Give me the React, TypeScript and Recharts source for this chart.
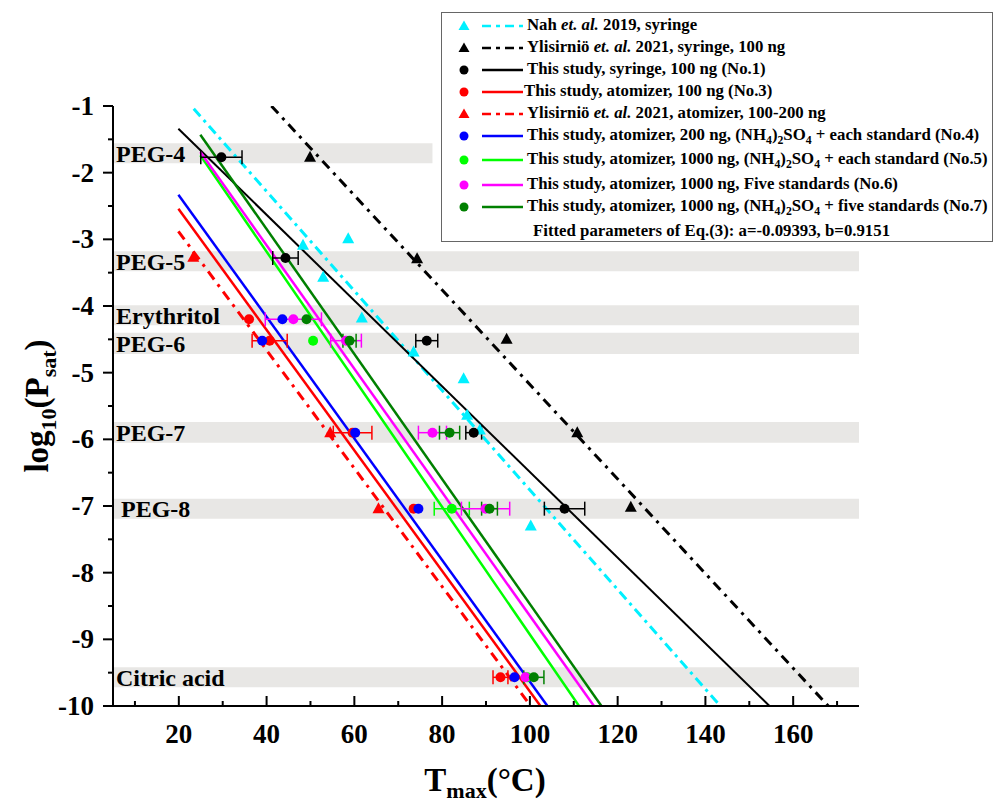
import React from 'react';
import { ComposedChart, Line, Scatter, XAxis, YAxis, ErrorBar, ReferenceArea } from 'recharts';

const FONT = '"Liberation Serif", "Times New Roman", serif';

// fitted lines, end points (T in °C, log10 Psat)
const nahFit = [{ x: 23.4, y: -1.04 }, { x: 143.4, y: -10 }];
const ylisSyringeFit = [{ x: 41.1, y: -1 }, { x: 168, y: -10 }];
const no1Fit = [{ x: 19.9, y: -1.34 }, { x: 154.6, y: -10 }];
const no3Fit = [{ x: 19.9, y: -2.54 }, { x: 102.4, y: -10 }];
const ylisAtomFit = [{ x: 19.9, y: -2.88 }, { x: 100.2, y: -10 }];
const no4Fit = [{ x: 19.9, y: -2.33 }, { x: 104, y: -10 }];
const no5Fit = [{ x: 24.9, y: -1.74 }, { x: 111.2, y: -10 }];
const no6Fit = [{ x: 24.9, y: -1.69 }, { x: 114.6, y: -10 }];
const no7Fit = [{ x: 24.9, y: -1.43 }, { x: 116.3, y: -10 }];

// measured points, e = half width of the T error bar
const nahPts = [
  { x: 48.3, y: -3.09 }, { x: 58.6, y: -2.99 }, { x: 52.9, y: -3.57 }, { x: 61.7, y: -4.18 },
  { x: 73.5, y: -4.69 }, { x: 84.9, y: -5.09 }, { x: 85.7, y: -5.64 }, { x: 88.6, y: -5.86 },
  { x: 100.2, y: -7.3 },
];
const ylisSyringePts = [
  { x: 49.9, y: -1.77 }, { x: 74.3, y: -3.29 }, { x: 94.7, y: -4.5 }, { x: 110.8, y: -5.9 }, { x: 123, y: -7.02 },
];
const no1Pts = [
  { x: 29.7, y: -1.77, e: 4.7 }, { x: 44.3, y: -3.28, e: 2.9 }, { x: 76.5, y: -4.52, e: 2.5 },
  { x: 87.2, y: -5.9, e: 1.8 }, { x: 107.9, y: -7.04, e: 4.6 },
];
const ylisAtomPts = [{ x: 23.3, y: -3.27 }, { x: 54.5, y: -5.9 }, { x: 65.5, y: -7.04 }];
const no3Pts = [
  { x: 36, y: -4.2, e: 0 }, { x: 40.7, y: -4.52, e: 4 }, { x: 59.6, y: -5.9, e: 4.4 },
  { x: 73.5, y: -7.04, e: 0 }, { x: 93.3, y: -9.57, e: 1.7 },
];
const no4Pts = [
  { x: 43.6, y: -4.2, e: 0 }, { x: 39, y: -4.52, e: 0 }, { x: 60.2, y: -5.9, e: 0 },
  { x: 74.6, y: -7.04, e: 0 }, { x: 96.5, y: -9.57, e: 0 },
];
const no5Pts = [{ x: 50.6, y: -4.52, e: 0 }, { x: 82.2, y: -7.04, e: 4 }, { x: 99.4, y: -9.57, e: 0 }];
const no6Pts = [
  { x: 46.1, y: -4.2, e: 6.4 }, { x: 58.1, y: -4.52, e: 3.5 }, { x: 77.8, y: -5.9, e: 3.2 },
  { x: 89.9, y: -7.04, e: 5.5 }, { x: 99, y: -9.57, e: 0 },
];
const no7Pts = [
  { x: 49.1, y: -4.2, e: 0 }, { x: 58.9, y: -4.52, e: 1.5 }, { x: 81.7, y: -5.9, e: 2.3 },
  { x: 90.8, y: -7.04, e: 1.8 }, { x: 100.9, y: -9.57, e: 2.3 },
];

// standards shown as grey bands
const standards = ['PEG-4', 'PEG-5', 'Erythritol', 'PEG-6', 'PEG-7', 'PEG-8', 'Citric acid'];
const bandLow = [-1.86, -3.48, -4.29, -4.72, -6.05, -7.19, -9.72];
const bandHigh = [-1.56, -3.18, -3.99, -4.4, -5.74, -6.89, -9.42];
const bandEnd = [77.8, 175, 175, 175, 175, 175, 175];

const xTicks = [10, 20, 30, 40, 50, 60, 70, 80, 90, 100, 110, 120, 130, 140, 150, 160, 170];
const yTicks = [-10, -9.5, -9, -8.5, -8, -7.5, -7, -6.5, -6, -5.5, -5, -4.5, -4, -3.5, -3, -2.5, -2, -1.5, -1];

const CYAN = '#00F0FF';
const RED = '#FF0000';
const BLUE = '#0000FF';
const LIME = '#00FF00';
const MAGENTA = '#FF00FF';
const DKGREEN = '#008000';

const XTick = (props: any) => {
  const { x, y, payload } = props;
  const major = payload.value % 20 === 0;
  return (
    <g>
      <line x1={x} x2={x} y1={y} y2={y - (major ? 10 : 5)} stroke="#000" strokeWidth={2} />
      {major && (
        <text x={x} y={y + 37} textAnchor="middle" fontFamily={FONT} fontWeight="bold" fontSize={27} fill="#000">
          {payload.value}
        </text>
      )}
    </g>
  );
};

const YTick = (props: any) => {
  const { x, y, payload } = props;
  const major = Number.isInteger(payload.value);
  return (
    <g>
      <line x1={x} x2={x - (major ? 10 : 5)} y1={y} y2={y} stroke="#000" strokeWidth={2} />
      {major && (
        <text x={x - 19} y={y + 9} textAnchor="end" fontFamily={FONT} fontWeight="bold" fontSize={27} fill="#000">
          {payload.value}
        </text>
      )}
    </g>
  );
};

const XTitle = () => (
  <text x={485} y={791} textAnchor="middle" fontFamily={FONT} fontWeight="bold" fontSize={33} fill="#000">
    T<tspan dy={7} fontSize={22}>max</tspan>
    <tspan dy={-7}>(°C)</tspan>
  </text>
);

const YTitle = () => (
  <text x={48} y={406} transform="rotate(-90 48 406)" textAnchor="middle" fontFamily={FONT} fontWeight="bold" fontSize={33} fill="#000">
    log<tspan dy={8} fontSize={22}>10</tspan>
    <tspan dy={-8}>(P</tspan>
    <tspan dy={8} fontSize={22}>sat</tspan>
    <tspan dy={-8}>)</tspan>
  </text>
);

const dot = (color: string) => (p: any) => <circle cx={p.cx} cy={p.cy} r={5} fill={color} />;
const tri = (color: string) => (p: any) => (
  <polygon points={`${p.cx},${p.cy - 6.5} ${p.cx - 6},${p.cy + 4.5} ${p.cx + 6},${p.cy + 4.5}`} fill={color} />
);

type Row = { color: string; marker: 'dot' | 'tri'; dash?: string; text: React.ReactNode; textX?: number };

const Sub = ({ children }: { children: React.ReactNode }) => (
  <span style={{ fontSize: '0.7em', position: 'relative', top: '0.3em' }}>{children}</span>
);
const Nh4 = () => (
  <>
    (NH<Sub>4</Sub>)<Sub>2</Sub>SO<Sub>4</Sub>
  </>
);

const legendRows: Row[] = [
  { color: CYAN, marker: 'tri', dash: '9 5 4 5', text: <>Nah <i>et. al.</i> 2019, syringe</> },
  { color: '#000', marker: 'tri', dash: '9 5 4 5', text: <>Ylisirniö <i>et. al.</i> 2021, syringe, 100 ng</> },
  { color: '#000', marker: 'dot', text: <>This study, syringe, 100 ng (No.1)</> },
  { color: RED, marker: 'dot', text: <>This study, atomizer, 100 ng (No.3)</>, textX: 523 },
  { color: RED, marker: 'tri', dash: '9 5 4 5', text: <>Ylisirniö <i>et. al.</i> 2021, atomizer, 100-200 ng</> },
  { color: BLUE, marker: 'dot', text: <>This study, atomizer, 200 ng, <Nh4 /> + each standard (No.4)</> },
  { color: LIME, marker: 'dot', text: <>This study, atomizer, 1000 ng, <Nh4 /> + each standard (No.5)</> },
  { color: MAGENTA, marker: 'dot', text: <>This study, atomizer, 1000 ng, Five standards (No.6)</> },
  { color: DKGREEN, marker: 'dot', text: <>This study, atomizer, 1000 ng, <Nh4 /> + five standards (No.7)</> },
];
const rowY = [25, 47, 69, 91, 113, 135, 159, 184, 206];

const BOX_L = 441;
const BOX_T = 12;

const LegendBox = () => (
  <div
    style={{
      position: 'absolute', left: BOX_L, top: BOX_T, width: 552, height: 230,
      border: '1.5px solid #666', background: '#fff', boxSizing: 'border-box',
      fontFamily: FONT, fontWeight: 'bold', fontSize: 16.8, color: '#000',
    }}
  >
    {legendRows.map((r, i) => (
      <React.Fragment key={i}>
        <svg style={{ position: 'absolute', left: 450 - BOX_L, top: rowY[i] - BOX_T - 12 }} width={76} height={24}>
          {r.marker === 'dot' ? (
            <circle cx={13} cy={12} r={4.5} fill={r.color} />
          ) : (
            <polygon points="13,6.5 7.5,16 18.5,16" fill={r.color} />
          )}
          <line x1={31} x2={72} y1={12} y2={12} stroke={r.color} strokeWidth={2.5} strokeDasharray={r.dash} />
        </svg>
        <div style={{ position: 'absolute', left: (r.textX ?? 526) - BOX_L, top: rowY[i] - BOX_T - 12, whiteSpace: 'nowrap', lineHeight: '22px' }}>
          {r.text}
        </div>
      </React.Fragment>
    ))}
    <div style={{ position: 'absolute', left: 532 - BOX_L, top: 231 - BOX_T - 12, whiteSpace: 'nowrap', lineHeight: '22px' }}>
      Fitted parameters of Eq.(3): a=-0.09393, b=0.9151
    </div>
  </div>
);

export default function App() {
  return (
    <div style={{ position: 'absolute', left: 0, top: 0, width: 993, height: 804, background: '#fff', overflow: 'hidden' }}>
      <ComposedChart width={993} height={804} margin={{ top: 106, right: 134, bottom: 68, left: 73 }}>
        {standards.map((s, i) => (
          <ReferenceArea
            key={s}
            x1={5}
            x2={bandEnd[i]}
            y1={bandLow[i]}
            y2={bandHigh[i]}
            fill="#E8E7E5"
            fillOpacity={1}
            stroke="none"
            label={{
              value: s,
              position: 'insideLeft',
              offset: s === 'PEG-8' ? 8 : 3,
              fill: '#000',
              fontSize: 24,
              fontWeight: 'bold',
              fontFamily: FONT,
            }}
          />
        ))}
        <XAxis
          type="number"
          dataKey="x"
          domain={[5, 175]}
          ticks={xTicks}
          tick={<XTick />}
          tickLine={false}
          tickSize={0}
          tickMargin={0}
          axisLine={{ stroke: '#000', strokeWidth: 2 }}
          height={30}
          allowDataOverflow
          label={XTitle}
        />
        <YAxis
          type="number"
          dataKey="y"
          domain={[-10, -1]}
          ticks={yTicks}
          tick={<YTick />}
          tickLine={false}
          tickSize={0}
          tickMargin={0}
          axisLine={{ stroke: '#000', strokeWidth: 2 }}
          width={40}
          allowDataOverflow
          label={YTitle}
        />
        <Line data={nahFit} dataKey="y" type="linear" stroke={CYAN} strokeWidth={3} strokeDasharray="10 5 3 5" dot={false} isAnimationActive={false} />
        <Line data={ylisSyringeFit} dataKey="y" type="linear" stroke="#000" strokeWidth={3} strokeDasharray="10 6 3 6" dot={false} isAnimationActive={false} />
        <Line data={no1Fit} dataKey="y" type="linear" stroke="#000" strokeWidth={2} dot={false} isAnimationActive={false} />
        <Line data={ylisAtomFit} dataKey="y" type="linear" stroke={RED} strokeWidth={3} strokeDasharray="10 6 3 6" dot={false} isAnimationActive={false} />
        <Line data={no3Fit} dataKey="y" type="linear" stroke={RED} strokeWidth={2.5} dot={false} isAnimationActive={false} />
        <Line data={no4Fit} dataKey="y" type="linear" stroke={BLUE} strokeWidth={2.5} dot={false} isAnimationActive={false} />
        <Line data={no5Fit} dataKey="y" type="linear" stroke={LIME} strokeWidth={2.5} dot={false} isAnimationActive={false} />
        <Line data={no6Fit} dataKey="y" type="linear" stroke={MAGENTA} strokeWidth={2.5} dot={false} isAnimationActive={false} />
        <Line data={no7Fit} dataKey="y" type="linear" stroke={DKGREEN} strokeWidth={2.5} dot={false} isAnimationActive={false} />

        <Scatter data={nahPts} shape={tri(CYAN)} isAnimationActive={false} />
        <Scatter data={ylisSyringePts} shape={tri('#000')} isAnimationActive={false} />
        <Scatter data={no1Pts} shape={dot('#000')} isAnimationActive={false}>
          <ErrorBar dataKey="e" direction="x" width={7} stroke="#000" strokeWidth={1.5} />
        </Scatter>
        <Scatter data={ylisAtomPts} shape={tri(RED)} isAnimationActive={false} />
        <Scatter data={no3Pts} shape={dot(RED)} isAnimationActive={false}>
          <ErrorBar dataKey="e" direction="x" width={7} stroke={RED} strokeWidth={1.5} />
        </Scatter>
        <Scatter data={no4Pts} shape={dot(BLUE)} isAnimationActive={false} />
        <Scatter data={no5Pts} shape={dot(LIME)} isAnimationActive={false}>
          <ErrorBar dataKey="e" direction="x" width={7} stroke={LIME} strokeWidth={1.5} />
        </Scatter>
        <Scatter data={no6Pts} shape={dot(MAGENTA)} isAnimationActive={false}>
          <ErrorBar dataKey="e" direction="x" width={7} stroke={MAGENTA} strokeWidth={1.5} />
        </Scatter>
        <Scatter data={no7Pts} shape={dot(DKGREEN)} isAnimationActive={false}>
          <ErrorBar dataKey="e" direction="x" width={7} stroke={DKGREEN} strokeWidth={1.5} />
        </Scatter>
      </ComposedChart>
      <LegendBox />
    </div>
  );
}
